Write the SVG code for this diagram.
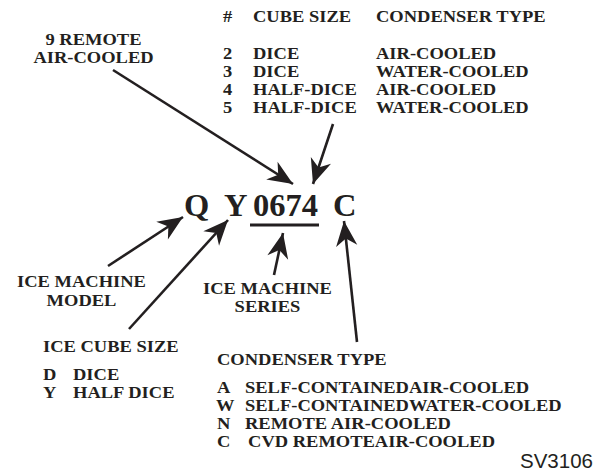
<svg xmlns="http://www.w3.org/2000/svg" width="613" height="471" viewBox="0 0 613 471">
<defs>
<style>
text{font-family:"Liberation Serif","Times New Roman",serif;font-weight:bold;fill:#231f20;}
.t{font-size:17px;}
.big{font-size:32.5px;}
.sv{font-family:"Liberation Sans",Arial,sans-serif;font-weight:normal;font-size:20.5px;}
.c{text-anchor:middle;}
.ln{stroke:#231f20;stroke-width:2.6;fill:none;}
</style>
<marker id="ah" markerUnits="userSpaceOnUse" markerWidth="30" markerHeight="30" refX="0" refY="0" viewBox="-22 -11 24 22" orient="auto">
<path d="M0,0 L-20,-8.5 L-14,0 L-20,8.5 Z" fill="#231f20"/>
</marker>
</defs>
<rect width="613" height="471" fill="#fff"/>
<g id="connectors">
<line class="ln" x1="113" y1="70" x2="293" y2="184" marker-end="url(#ah)"/>
<line class="ln" x1="333" y1="124" x2="313" y2="184" marker-end="url(#ah)"/>
<line class="ln" x1="108" y1="266" x2="183" y2="217" marker-end="url(#ah)"/>
<line class="ln" x1="129" y1="329" x2="228" y2="220" marker-end="url(#ah)"/>
<line class="ln" x1="274" y1="275" x2="283" y2="233" marker-end="url(#ah)"/>
<line class="ln" x1="357" y1="342" x2="344" y2="221" marker-end="url(#ah)"/>
</g>
<g id="code">
<text class="big" x="184" y="216">Q</text>
<text class="big" x="224" y="216">Y</text>
<text class="big" x="253" y="216">0674</text>
<text class="big" x="333" y="216">C</text>
<line x1="250" y1="225" x2="319" y2="225" stroke="#231f20" stroke-width="3"/>
</g>
<g id="table">
<text class="t" transform="translate(223,0) scale(1.088,1)"><tspan x="0" y="22">#</tspan><tspan x="0" y="59">2</tspan><tspan x="0" y="77">3</tspan><tspan x="0" y="95">4</tspan><tspan x="0" y="113">5</tspan></text>
<text class="t" transform="translate(253,0) scale(1.088,1)"><tspan x="0" y="22">CUBE SIZE</tspan><tspan x="0" y="59">DICE</tspan><tspan x="0" y="77">DICE</tspan><tspan x="0" y="95">HALF-DICE</tspan><tspan x="0" y="113">HALF-DICE</tspan></text>
<text class="t" transform="translate(376,0) scale(1.088,1)"><tspan x="0" y="22">CONDENSER TYPE</tspan><tspan x="0" y="59">AIR-COOLED</tspan><tspan x="0" y="77">WATER-COOLED</tspan><tspan x="0" y="95">AIR-COOLED</tspan><tspan x="0" y="113">WATER-COOLED</tspan></text>
</g>
<g id="remote9">
<text class="t c" transform="translate(93.5,0) scale(1.088,1)"><tspan x="0" y="45">9 REMOTE</tspan><tspan x="0" y="63">AIR-COOLED</tspan></text>
</g>
<g id="model">
<text class="t c" transform="translate(81.5,0) scale(1.088,1)"><tspan x="0" y="287">ICE MACHINE</tspan><tspan x="0" y="306">MODEL</tspan></text>
</g>
<g id="series">
<text class="t c" transform="translate(267.5,0) scale(1.088,1)"><tspan x="0" y="294">ICE MACHINE</tspan><tspan x="0" y="312">SERIES</tspan></text>
</g>
<g id="cubesize">
<text class="t" transform="translate(43,0) scale(1.088,1)" x="0" y="352">ICE CUBE SIZE</text>
<text class="t" transform="translate(43,0) scale(1.088,1)"><tspan x="0" y="380">D</tspan><tspan x="0" y="398">Y</tspan></text>
<text class="t" transform="translate(73,0) scale(1.088,1)"><tspan x="0" y="380">DICE</tspan><tspan x="0" y="398">HALF DICE</tspan></text>
</g>
<g id="condenser">
<text class="t" transform="translate(217,0) scale(1.088,1)" x="0" y="365">CONDENSER TYPE</text>
<text class="t" transform="translate(217,0) scale(1.088,1)"><tspan x="0" y="393">A</tspan><tspan x="-1" y="411">W</tspan><tspan x="0" y="429">N</tspan><tspan x="0" y="447">C</tspan></text>
<text class="t" transform="translate(245,0) scale(1.088,1)"><tspan x="0" y="393">SELF-CONTAINEDAIR-COOLED</tspan><tspan x="0" y="411">SELF-CONTAINEDWATER-COOLED</tspan><tspan x="0" y="429">REMOTE AIR-COOLED</tspan><tspan x="2.8" y="447">CVD REMOTEAIR-COOLED</tspan></text>
</g>
<g id="label">
<text class="sv" x="520" y="468">SV3106</text>
</g>
</svg>
